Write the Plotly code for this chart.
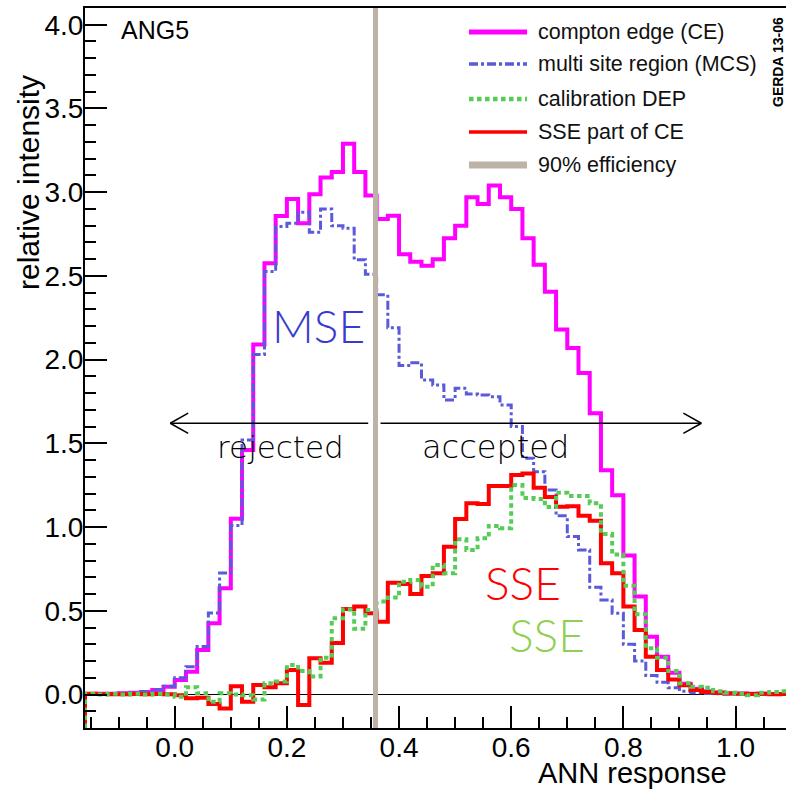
import plotly.graph_objects as go

# ---------------- data ----------------
BIN_START = -0.16
BIN_WIDTH = 0.02

ce_values = [0.003, 0.004, 0.005, 0.007, 0.010, 0.015, 0.027, 0.047,
             0.087, 0.136, 0.266, 0.425, 0.634, 1.05, 1.46, 2.09,
             2.576, 2.858, 2.96, 2.815, 2.988, 3.087, 3.12, 3.29,
             3.12, 2.98, 2.84, 2.86, 2.63, 2.585, 2.56, 2.60,
             2.725, 2.80, 2.97, 2.93, 3.04, 2.97, 2.90, 2.725,
             2.566, 2.406, 2.18, 2.07, 1.92, 1.68, 1.34, 1.19,
             0.83, 0.585, 0.345, 0.226, 0.13, 0.065, 0.035, 0.02,
             0.012, 0.008, 0.006, 0.005, 0.004, 0.003, 0.003]

mcs_values = [0.003, 0.004, 0.006, 0.008, 0.012, 0.018, 0.030, 0.050,
              0.10, 0.166, 0.286, 0.487, 0.725, 1.01, 1.52, 2.03,
              2.526, 2.795, 2.815, 2.88, 2.76, 2.90, 2.80, 2.785,
              2.596, 2.51, 2.387, 2.19, 1.965, 1.982, 1.879, 1.849,
              1.759, 1.829, 1.795, 1.789, 1.779, 1.729, 1.60, 1.411,
              1.331, 1.222, 1.067, 0.943, 0.863, 0.64, 0.565, 0.485,
              0.30, 0.20, 0.113, 0.073, 0.04, 0.02, 0.01, 0.006,
              0.004, 0.003, 0.002, 0.002, 0.001, 0.001, 0.001]

sse_values = [0.004, 0.003, 0.002, 0.001, 0.003, 0.001, 0.003, 0.002,
              -0.005, -0.023, -0.02, -0.057, -0.083, 0.05, -0.043, 0.057,
              0.043, 0.067, 0.146, -0.063, 0.216, 0.19, 0.308, 0.51,
              0.525, 0.485, 0.435, 0.668, 0.66, 0.60, 0.708, 0.724,
              0.883, 1.048, 1.142, 1.138, 1.245, 1.245, 1.311, 1.32,
              1.235, 1.18, 1.122, 1.124, 1.067, 1.038, 0.784, 0.724,
              0.525, 0.385, 0.226, 0.146, 0.09, 0.055, 0.027, 0.015,
              0.01, 0.006, 0.004, 0.003, 0.004, 0.002, 0.003]

dep_values = [0.005, 0.0, 0.004, 0.0, 0.005, 0.0, 0.005, 0.0,
              -0.013, 0.043, 0.007, -0.043, 0.007, 0.0, -0.005, -0.03,
              0.067, 0.077, 0.176, 0.14, 0.108, 0.22, 0.455, 0.507,
              0.392, 0.505, 0.555, 0.58, 0.674, 0.684, 0.644, 0.774,
              0.724, 0.927, 0.863, 0.933, 1.007, 0.993, 1.251, 1.173,
              1.168, 1.12, 1.205, 1.185, 1.185, 1.142, 0.958, 0.836,
              0.65, 0.48, 0.276, 0.22, 0.14, 0.068, 0.047, 0.04,
              0.02, 0.01, 0.005, -0.005, 0.01, 0.015, 0.02]

EFF_CUT = 0.358
X_RANGE = [-0.16, 1.09]
Y_RANGE = [-0.2, 4.1]

X_TICKS = [0.0, 0.2, 0.4, 0.6, 0.8, 1.0]
Y_TICKS = [0.0, 0.5, 1.0, 1.5, 2.0, 2.5, 3.0, 3.5, 4.0]

legend_labels = ["compton edge (CE)", "multi site region (MCS)",
                 "calibration DEP", "SSE part of CE", "90% efficiency"]

ARROW_Y = 1.62
REJ_ARROW = [0.345, -0.008]
ACC_ARROW = [0.367, 0.939]

# ---------------- layout geometry ----------------
W, H = 786, 791
ML, MR, MT, MB = 85, 0, 8, 63
PW = W - ML - MR
PH = H - MT - MB


def px_x(px):
    return (px - ML) / PW


def px_y(py):
    return 1 - (py - MT) / PH


edges = [round(BIN_START + BIN_WIDTH * i, 4) for i in range(len(ce_values) + 1)]


def step_xy(vals):
    xs = [edges[0]] + edges[:-1] + [edges[-1]]
    ys = [Y_RANGE[0]] + list(vals) + [vals[-1]]
    return xs, ys


MAGENTA = "#ff00ff"
BLUE = "#5a5ada"
GREEN = "#55cc55"
RED = "#ff0000"
GRAY = "#bcb2a6"

styles = [
    (ce_values, MAGENTA, 4, "solid"),
    (mcs_values, BLUE, 3, "9px,3px,3px,3px"),
    (sse_values, RED, 4, "solid"),
    (dep_values, GREEN, 4, "4.5px,3.5px"),
]

fig = go.Figure()
for vals, col, wid, dash in styles:
    xs, ys = step_xy(vals)
    fig.add_trace(go.Scatter(x=xs, y=ys, mode="lines", line_shape="hv",
                             line=dict(color=col, width=wid, dash=dash),
                             hoverinfo="skip", showlegend=False))

fig.add_trace(go.Scatter(x=[EFF_CUT, EFF_CUT], y=Y_RANGE, mode="lines",
                         line=dict(color=GRAY, width=5), showlegend=False,
                         hoverinfo="skip"))

FONT = "Liberation Sans, Arial, sans-serif"
GEO = "Lato, Open Sans, sans-serif"
WIDE = "DejaVu Sans, sans-serif"

shapes = []
# arrows
hx, hy = 0.032, 0.06
for (x0, x1) in [REJ_ARROW, ACC_ARROW]:
    shapes.append(dict(type="line", xref="x", yref="y", x0=x0, x1=x1,
                       y0=ARROW_Y, y1=ARROW_Y, line=dict(color="black", width=1.5)))
    d = hx if x1 < x0 else -hx
    for s in (1, -1):
        shapes.append(dict(type="line", xref="x", yref="y", x0=x1, x1=x1 + d,
                           y0=ARROW_Y, y1=ARROW_Y + s * hy,
                           line=dict(color="black", width=1.5)))

# custom legend
leg_styles = [(MAGENTA, 5, "solid"), (BLUE, 3.5, "9px,3px,3px,3px"),
              (GREEN, 4.5, "4.5px,3.5px"), (RED, 3.5, "solid"), (GRAY, 7, "solid")]
leg_rows = [32, 64, 99, 132, 165]
annotations = []
for lab, (col, wid, dash), row in zip(legend_labels, leg_styles, leg_rows):
    shapes.append(dict(type="line", xref="paper", yref="paper",
                       x0=px_x(469), x1=px_x(527), y0=px_y(row), y1=px_y(row),
                       line=dict(color=col, width=wid, dash=dash)))
    annotations.append(dict(text=lab, xref="paper", yref="paper", x=px_x(536),
                            y=px_y(row), xanchor="left", yanchor="middle",
                            showarrow=False, font=dict(family=FONT, size=21.5, color="#111")))

annotations += [
    dict(text="ANG5", xref="paper", yref="paper", x=px_x(119), y=px_y(30),
         xanchor="left", yanchor="middle", showarrow=False,
         font=dict(family=FONT, size=25, color="black")),
    dict(text="<b>GERDA 13-06</b>", xref="paper", yref="paper", x=px_x(778),
         y=px_y(62), xanchor="center", yanchor="middle", textangle=-90,
         showarrow=False, font=dict(family=FONT, size=14, color="black")),
    dict(text="relative intensity", xref="paper", yref="paper", x=px_x(28),
         y=px_y(183), xanchor="center", yanchor="middle", textangle=-90,
         showarrow=False, font=dict(family=FONT, size=30, color="black")),
    dict(text="ANN response", xref="paper", yref="paper", x=px_x(729),
         y=px_y(773), xanchor="right", yanchor="middle",
         showarrow=False, font=dict(family=FONT, size=29, color="black")),
    dict(text="MSE", xref="paper", yref="paper", x=px_x(318), y=px_y(325),
         xanchor="center", yanchor="middle", showarrow=False,
         font=dict(family=GEO, size=46, color="#3a3acc", weight=300)),
    dict(text="SSE", xref="paper", yref="paper", x=px_x(523), y=px_y(582),
         xanchor="center", yanchor="middle", showarrow=False,
         font=dict(family=GEO, size=46, color="#ff0000", weight=300)),
    dict(text="SSE", xref="paper", yref="paper", x=px_x(547), y=px_y(634),
         xanchor="center", yanchor="middle", showarrow=False,
         font=dict(family=GEO, size=46, color="#8fcf52", weight=300)),
    dict(text="rejected", xref="paper", yref="paper", x=px_x(280), y=px_y(447),
         xanchor="center", yanchor="middle", showarrow=False,
         font=dict(family=WIDE, size=31, color="black", weight=200)),
    dict(text="accepted", xref="paper", yref="paper", x=px_x(495), y=px_y(447),
         xanchor="center", yanchor="middle", showarrow=False,
         font=dict(family=WIDE, size=32, color="black", weight=200)),
]

fig.update_layout(
    width=W, height=H,
    margin=dict(l=ML, r=MR, t=MT, b=MB, pad=0),
    plot_bgcolor="white", paper_bgcolor="white",
    showlegend=False,
    shapes=shapes, annotations=annotations,
    font=dict(family=FONT, color="black"),
)
fig.update_xaxes(range=X_RANGE, showgrid=False, zeroline=False,
                 showline=True, linecolor="black", linewidth=2, mirror=True,
                 ticks="inside", ticklen=22, tickwidth=1.5, tickcolor="black",
                 tickvals=X_TICKS, tickformat=".1f", ticklabelstandoff=-7,
                 tickfont=dict(family=FONT, size=28, color="black"),
                 minor=dict(ticks="inside", ticklen=11, tickwidth=1.5,
                            dtick=0.05, tick0=0, tickcolor="black", showgrid=False))
fig.update_yaxes(range=Y_RANGE, showgrid=False, zeroline=True,
                 zerolinecolor="black", zerolinewidth=1,
                 showline=True, linecolor="black", linewidth=2, mirror=False,
                 ticks="inside", ticklen=22, tickwidth=1.5, tickcolor="black",
                 tickvals=Y_TICKS, tickformat=".1f", ticklabelstandoff=-6,
                 tickfont=dict(family=FONT, size=28, color="black"),
                 minor=dict(ticks="inside", ticklen=11, tickwidth=1.5,
                            dtick=0.1, tick0=0, tickcolor="black", showgrid=False))

fig.write_html("out.html")
